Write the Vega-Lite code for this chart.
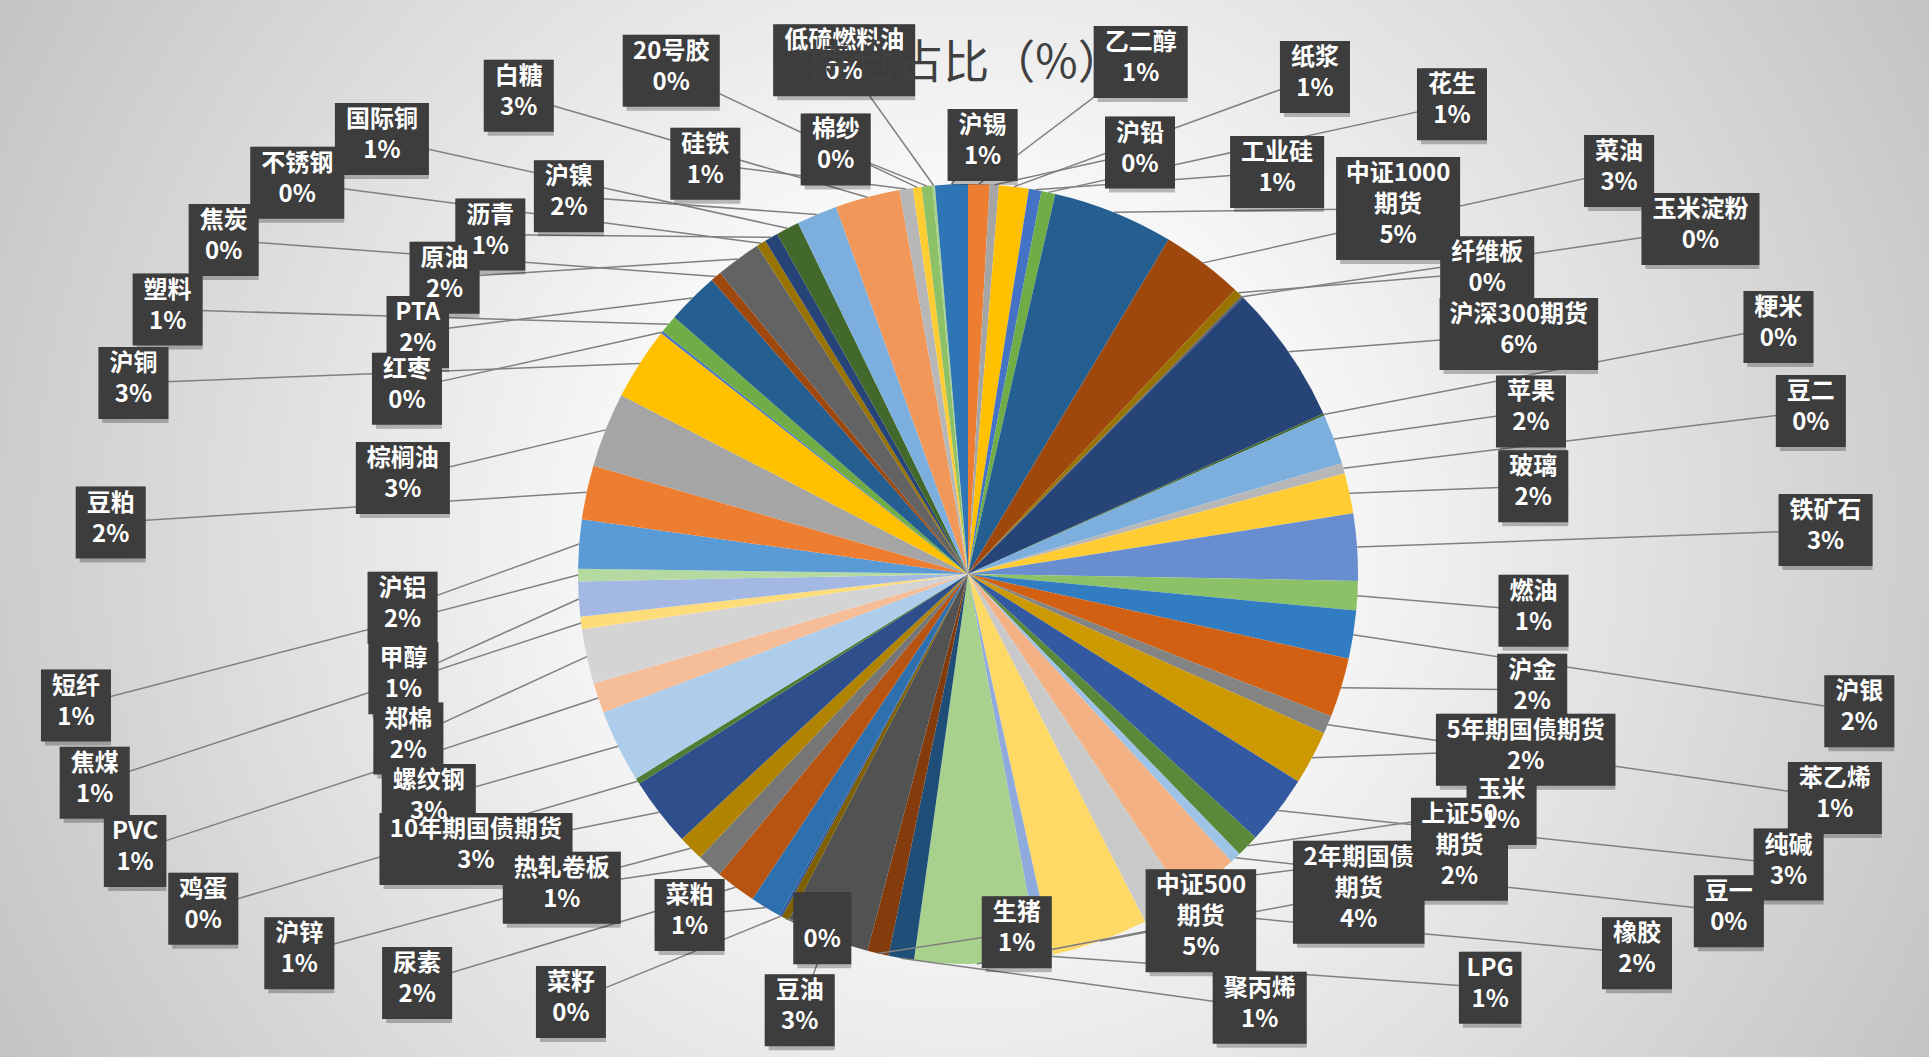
{
  "$schema": "https://vega.github.io/schema/vega-lite/v6.json",
  "width": 1929,
  "height": 1057,
  "autosize": {"type": "none"},
  "padding": 0,
  "background": "#FFFFFF",
  "config": {"view": {"stroke": null}},
  "title": {
    "text": "持仓占比（%）",
    "frame": "group",
    "anchor": "middle",
    "offset": -88,
    "font": "Noto Sans CJK SC",
    "fontSize": 46,
    "fontWeight": "normal",
    "color": "#404040"
  },
  "layer": [
    {
      "data": {"values": [{}]},
      "mark": {
        "type": "rect",
        "color": {
          "gradient": "radial",
          "x1": 0.5, "y1": 0.5, "r1": 0,
          "x2": 0.5, "y2": 0.5, "r2": 0.62,
          "stops": [
            {"offset": 0.2, "color": "#FFFFFF"},
            {"offset": 1, "color": "#BDBDBD"}
          ]
        }
      }
    },
    {
      "data": {
        "values": [
          {"name": "乙二醇", "value": 0.89},
          {"name": "沪铅", "value": 0.38},
          {"name": "纸浆", "value": 1.24},
          {"name": "工业硅", "value": 0.52},
          {"name": "花生", "value": 0.58},
          {"name": "中证1000期货", "value": 5.03},
          {"name": "菜油", "value": 3.42},
          {"name": "纤维板", "value": 0.36},
          {"name": "玉米淀粉", "value": 0.1},
          {"name": "沪深300期货", "value": 5.81},
          {"name": "粳米", "value": 0.1},
          {"name": "苹果", "value": 2.08},
          {"name": "豆二", "value": 0.44},
          {"name": "玻璃", "value": 1.67},
          {"name": "铁矿石", "value": 2.78},
          {"name": "燃油", "value": 1.22},
          {"name": "沪银", "value": 2.0},
          {"name": "沪金", "value": 2.47},
          {"name": "苯乙烯", "value": 0.75},
          {"name": "5年期国债期货", "value": 2.25},
          {"name": "纯碱", "value": 2.89},
          {"name": "玉米", "value": 0.94},
          {"name": "豆一", "value": 0.45},
          {"name": "上证50期货", "value": 2.44},
          {"name": "橡胶", "value": 1.89},
          {"name": "2年期国债期货", "value": 4.03},
          {"name": "LPG", "value": 0.56},
          {"name": "中证500期货", "value": 5.17},
          {"name": "聚丙烯", "value": 1.06},
          {"name": "生猪", "value": 0.89},
          {"name": "豆油", "value": 3.47},
          {"name": "", "value": 0.31},
          {"name": "菜籽", "value": 0.1},
          {"name": "菜粕", "value": 1.31},
          {"name": "尿素", "value": 1.69},
          {"name": "热轧卷板", "value": 1.06},
          {"name": "沪锌", "value": 1.06},
          {"name": "10年期国债期货", "value": 2.86},
          {"name": "鸡蛋", "value": 0.25},
          {"name": "螺纹钢", "value": 3.03},
          {"name": "PVC", "value": 1.25},
          {"name": "郑棉", "value": 2.28},
          {"name": "焦煤", "value": 0.52},
          {"name": "甲醇", "value": 1.45},
          {"name": "短纤", "value": 0.52},
          {"name": "沪铝", "value": 2.03},
          {"name": "豆粕", "value": 2.25},
          {"name": "棕榈油", "value": 3.11},
          {"name": "沪铜", "value": 3.03},
          {"name": "红枣", "value": 0.1},
          {"name": "塑料", "value": 0.75},
          {"name": "PTA", "value": 2.17},
          {"name": "焦炭", "value": 0.44},
          {"name": "原油", "value": 1.89},
          {"name": "不锈钢", "value": 0.39},
          {"name": "沥青", "value": 0.56},
          {"name": "国际铜", "value": 0.97},
          {"name": "沪镍", "value": 1.69},
          {"name": "白糖", "value": 2.69},
          {"name": "硅铁", "value": 0.56},
          {"name": "20号胶", "value": 0.36},
          {"name": "棉纱", "value": 0.45},
          {"name": "低硫燃料油", "value": 0.1},
          {"name": "沪锡", "value": 1.36}
        ]
      },
      "transform": [
        {"window": [{"op": "row_number", "as": "idx"}]},
        {"joinaggregate": [
          {"op": "sum", "field": "value", "as": "total"},
          {"op": "count", "as": "n"}
        ]},
        {"window": [{"op": "sum", "field": "value", "as": "cum"}], "sort": [{"field": "idx"}], "frame": [null, 0]},
        {"calculate": "(datum.cum - datum.value) / datum.total", "as": "f0"},
        {"calculate": "datum.cum / datum.total", "as": "f1"},
        {"calculate": "PI * (datum.f0 + datum.f1)", "as": "mid"},
        {"calculate": "2 * PI * (datum.idx - 0.5) / datum.n", "as": "uni"},
        {"calculate": "datum.uni + 0.08 * sin(2 * datum.uni) + 0.1", "as": "uw"},
        {"calculate": "0.3 * datum.mid + 0.7 * datum.uw", "as": "phi"},
        {"calculate": "datum.idx % 2", "as": "ring"},
        {"calculate": "sin(datum.mid)", "as": "rx"},
        {"calculate": "cos(datum.mid)", "as": "ry"},
        {"calculate": "sin(datum.phi)", "as": "s"},
        {"calculate": "cos(datum.phi)", "as": "c"},
        {"calculate": "test(regexp('期货$'), datum.name) && indexof(datum.name, '10年') < 0 && indexof(datum.name, '5年') < 0 && abs(datum.c) > 0.7", "as": "wrap"},
        {"calculate": "datum.wrap ? substring(datum.name, 0, length(datum.name) - 2) : datum.name", "as": "line1"},
        {"calculate": "datum.wrap ? datum.line1 + '\\n期货\\n' + round(datum.value) + '%' : datum.name + '\\n' + round(datum.value) + '%'", "as": "label"},
        {"calculate": "length(replace(datum.line1, regexp('[^ -~]', 'g'), ''))", "as": "nAscii"},
        {"calculate": "(length(datum.line1) - datum.nAscii) * 24 + datum.nAscii * 13.5", "as": "tw"},
        {"calculate": "(max(datum.tw, 36) + 22) / 780", "as": "hw"},
        {"calculate": "((datum.wrap ? 3 : 2) * 31 + 10) / 780", "as": "hh"},
        {"calculate": "datum.ring == 1 ? (datum.c < 0 ? 2.3 * pow(abs(datum.s), 0.6) : 2.2 * pow(abs(datum.s), 0.75)) : (2.15 - 0.7 * datum.s * datum.s) * abs(datum.s)", "as": "ax"},
        {"calculate": "datum.ring == 1 ? (datum.c < 0 ? 1.12 * pow(abs(datum.c), 0.6) : 1.32 * pow(abs(datum.c), 0.75)) : pow(abs(datum.c), 0.8) * (datum.c > 0 ? 1.1 : 0.92)", "as": "ay"},
        {"calculate": "clamp((datum.s < 0 ? -1 : 1) * datum.ax, -2.46 + datum.hw, 2.44 - datum.hw)", "as": "lx"},
        {"calculate": "clamp((datum.c < 0 ? -1 : 1) * datum.ay, -1.218 + datum.hh, 1.451 - datum.hh)", "as": "ly"},
        {"calculate": "datum.lx - datum.hw", "as": "bx0"},
        {"calculate": "datum.lx + datum.hw", "as": "bx1"},
        {"calculate": "datum.ly - datum.hh", "as": "by0"},
        {"calculate": "datum.ly + datum.hh", "as": "by1"}
      ],
      "layer": [
        {
          "mark": {"type": "arc", "outerRadius": 390},
          "encoding": {
            "x": {"datum": 0, "type": "quantitative", "scale": {"domain": [-2.48205, 2.4641], "nice": false, "zero": false}, "axis": null},
            "y": {"datum": 0, "type": "quantitative", "scale": {"domain": [-1.23846, 1.47179], "nice": false, "zero": false}, "axis": null},
            "theta": {"field": "f0", "type": "quantitative", "stack": null, "scale": {"domain": [0, 1], "range": [0, 6.283185307]}},
            "theta2": {"field": "f1"},
            "color": {
              "field": "name",
              "type": "nominal",
              "legend": null,
              "scale": {
                "domain": ["乙二醇", "沪铅", "纸浆", "工业硅", "花生", "中证1000期货", "菜油", "纤维板", "玉米淀粉", "沪深300期货", "粳米", "苹果", "豆二", "玻璃", "铁矿石", "燃油", "沪银", "沪金", "苯乙烯", "5年期国债期货", "纯碱", "玉米", "豆一", "上证50期货", "橡胶", "2年期国债期货", "LPG", "中证500期货", "聚丙烯", "生猪", "豆油", "", "菜籽", "菜粕", "尿素", "热轧卷板", "沪锌", "10年期国债期货", "鸡蛋", "螺纹钢", "PVC", "郑棉", "焦煤", "甲醇", "短纤", "沪铝", "豆粕", "棕榈油", "沪铜", "红枣", "塑料", "PTA", "焦炭", "原油", "不锈钢", "沥青", "国际铜", "沪镍", "白糖", "硅铁", "20号胶", "棉纱", "低硫燃料油", "沪锡"],
                "range": ["#ED7D31", "#A5A5A5", "#FFC000", "#4472C4", "#70AD47", "#255E91", "#9E480E", "#997300", "#636363", "#264478", "#43682B", "#7CAFDD", "#B7B7B7", "#FFCD33", "#698ED0", "#8CC168", "#327DC2", "#D26012", "#848484", "#CC9A00", "#335AA1", "#5A8A39", "#9DC3E6", "#F4B183", "#C9C9C9", "#FFD966", "#8FAADC", "#A9D18E", "#1F4E79", "#843C0C", "#525252", "#7F6000", "#2F5597", "#2E6FAE", "#B85412", "#767676", "#B08400", "#2E4F8C", "#4E7D33", "#ADCDEB", "#F6BE98", "#D4D4D4", "#FFDC7A", "#A3B8E2", "#B4D9A1", "#5B9BD5", "#ED7D31", "#A5A5A5", "#FFC000", "#4472C4", "#70AD47", "#255E91", "#9E480E", "#636363", "#997300", "#264478", "#43682B", "#7CAFDD", "#F1975A", "#B7B7B7", "#FFCD33", "#8CC168", "#A9D18E", "#2E75B6"]
              }
            }
          }
        },
        {
          "mark": {"type": "rule", "color": "#808080", "strokeWidth": 1.5},
          "encoding": {
            "x": {"field": "rx", "type": "quantitative", "scale": {"domain": [-2.48205, 2.4641], "nice": false, "zero": false}, "axis": null},
            "y": {"field": "ry", "type": "quantitative", "scale": {"domain": [-1.23846, 1.47179], "nice": false, "zero": false}, "axis": null},
            "x2": {"field": "lx"},
            "y2": {"field": "ly"}
          }
        },
        {
          "mark": {"type": "rect", "color": "#000000", "opacity": 0.25, "xOffset": 4, "yOffset": 4},
          "encoding": {
            "x": {"field": "bx0", "type": "quantitative", "scale": {"domain": [-2.48205, 2.4641], "nice": false, "zero": false}, "axis": null},
            "y": {"field": "by0", "type": "quantitative", "scale": {"domain": [-1.23846, 1.47179], "nice": false, "zero": false}, "axis": null},
            "x2": {"field": "bx1"},
            "y2": {"field": "by1"}
          }
        },
        {
          "mark": {"type": "rect", "color": "#3D3D3D", "opacity": 1},
          "encoding": {
            "x": {"field": "bx0", "type": "quantitative", "scale": {"domain": [-2.48205, 2.4641], "nice": false, "zero": false}, "axis": null},
            "y": {"field": "by0", "type": "quantitative", "scale": {"domain": [-1.23846, 1.47179], "nice": false, "zero": false}, "axis": null},
            "x2": {"field": "bx1"},
            "y2": {"field": "by1"}
          }
        },
        {
          "mark": {
            "type": "text",
            "align": "center",
            "baseline": "top",
            "dy": 5,
            "lineBreak": "\n",
            "lineHeight": 31,
            "font": "Noto Sans CJK SC",
            "fontSize": 24,
            "fontWeight": "bold",
            "color": "#FFFFFF"
          },
          "encoding": {
            "x": {"field": "lx", "type": "quantitative", "scale": {"domain": [-2.48205, 2.4641], "nice": false, "zero": false}, "axis": null},
            "y": {"field": "by1", "type": "quantitative", "scale": {"domain": [-1.23846, 1.47179], "nice": false, "zero": false}, "axis": null},
            "text": {"field": "label", "type": "nominal"}
          }
        }
      ]
    }
  ]
}
